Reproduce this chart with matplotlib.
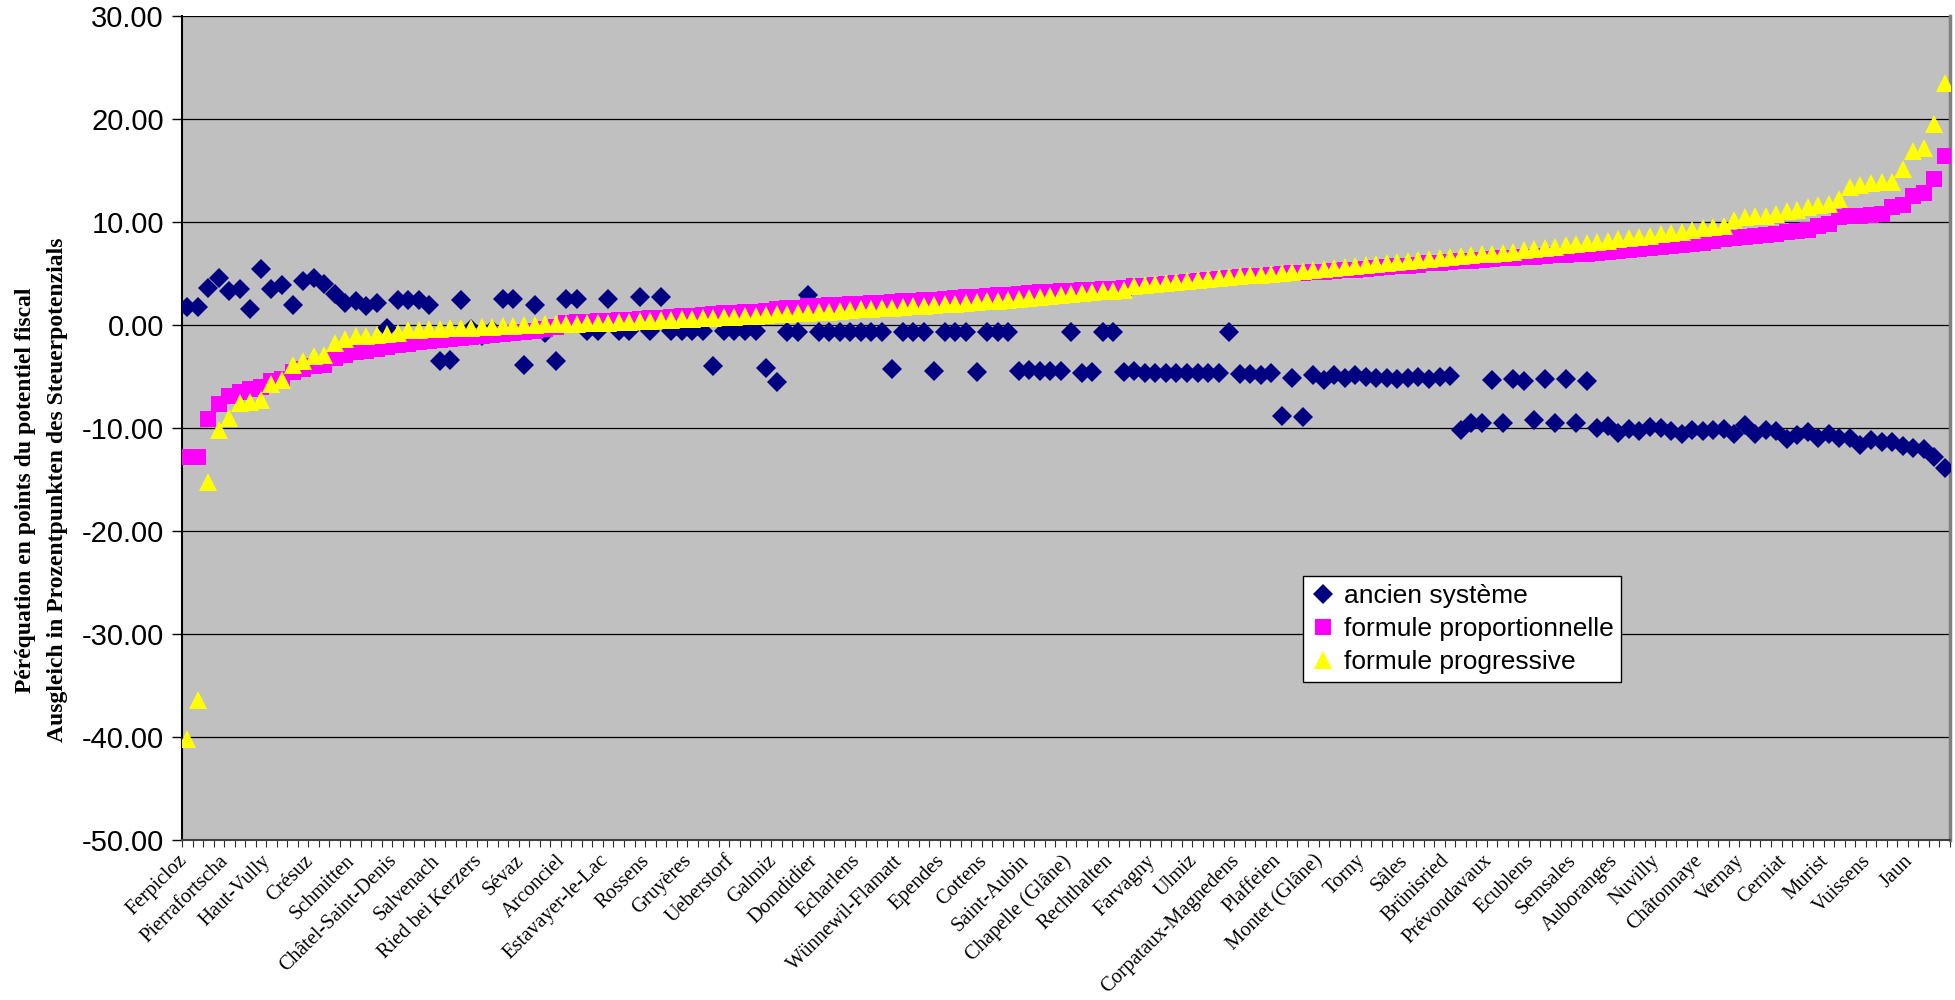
import matplotlib
matplotlib.use("Agg")
import matplotlib.pyplot as plt
from matplotlib.transforms import ScaledTranslation
import numpy as np

# Communes, sorted by the proportional formula (label shown on every 4th position)
tick_labels = [
    "Ferpicloz", "Pierrafortscha", "Haut-Vully", "Crésuz", "Schmitten",
    "Châtel-Saint-Denis", "Salvenach", "Ried bei Kerzers", "Sévaz", "Arconciel",
    "Estavayer-le-Lac", "Rossens", "Gruyères", "Ueberstorf", "Galmiz",
    "Domdidier", "Echarlens", "Wünnewil-Flamatt", "Ependes", "Cottens",
    "Saint-Aubin", "Chapelle (Glâne)", "Rechthalten", "Farvagny", "Ulmiz",
    "Corpataux-Magnedens", "Plaffeien", "Montet (Glâne)", "Torny", "Sâles",
    "Brünisried", "Prévondavaux", "Ecublens", "Semsales", "Auboranges",
    "Nuvilly", "Châtonnaye", "Vernay", "Cerniat", "Murist", "Vuissens", "Jaun",
]
n_communes = 168
label_step = 4

ancien = [
    1.75, 1.75, 3.6, 4.56, 3.33, 3.5, 1.55, 5.47, 3.5, 3.9,
    1.94, 4.3, 4.56, 4.0, 3.0, 2.2, 2.4, 1.9, 2.2, -0.3,
    2.45, 2.5, 2.45, 2.0, -3.5, -3.4, 2.45, -0.4, -1.0, -0.5,
    2.55, 2.55, -3.85, 1.94, -0.7, -3.5, 2.6, 2.6, -0.6, -0.6,
    2.6, -0.6, -0.6, 2.7, -0.6, 2.7, -0.6, -0.6, -0.6, -0.6,
    -3.95, -0.6, -0.6, -0.6, -0.6, -4.1, -5.5, -0.65, -0.65, 2.9,
    -0.65, -0.65, -0.65, -0.68, -0.68, -0.68, -0.68, -4.27, -0.68, -0.68,
    -0.68, -4.43, -0.68, -0.68, -0.68, -4.56, -0.68, -0.68, -0.68, -4.43,
    -4.34, -4.43, -4.43, -4.43, -0.68, -4.6, -4.5, -0.68, -0.68, -4.5,
    -4.43, -4.66, -4.66, -4.66, -4.6, -4.66, -4.66, -4.66, -4.66, -0.68,
    -4.75, -4.75, -4.82, -4.66, -8.8, -5.1, -8.93, -4.8, -5.3, -4.8,
    -5.15, -4.8, -5.0, -5.15, -5.1, -5.2, -5.15, -5.05, -5.2, -5.05,
    -4.9, -10.2, -9.5, -9.45, -5.3, -9.5, -5.24, -5.4, -9.2, -5.24,
    -9.5, -5.18, -9.5, -5.4, -10.0, -9.8, -10.5, -10.1, -10.3, -9.9,
    -10.0, -10.3, -10.6, -10.2, -10.3, -10.2, -10.1, -10.55, -9.7, -10.55,
    -10.2, -10.3, -11.0, -10.65, -10.4, -10.97, -10.55, -10.97, -10.97, -11.6,
    -11.1, -11.3, -11.3, -11.7, -11.9, -12.0, -12.75, -13.9,
]

proportionnelle = [
    -12.8, -12.8, -9.1, -7.6, -6.9, -6.5, -6.2, -6.0, -5.4, -5.2,
    -4.5, -4.2, -4.0, -3.9, -3.2, -2.9, -2.6, -2.5, -2.3, -2.1,
    -1.9, -1.8, -1.65, -1.55, -1.45, -1.35, -1.25, -1.15, -1.05, -0.95,
    -0.85, -0.75, -0.65, -0.55, -0.4, -0.2, 0.2, 0.3, 0.35, 0.4,
    0.45, 0.5, 0.55, 0.6, 0.7, 0.75, 0.85, 0.9, 0.95, 1.0,
    1.1, 1.15, 1.2, 1.25, 1.3, 1.4, 1.55, 1.65, 1.7, 1.85,
    1.9, 1.95, 2.0, 2.05, 2.1, 2.15, 2.2, 2.3, 2.35, 2.4,
    2.45, 2.5, 2.6, 2.65, 2.7, 2.75, 2.8, 2.9, 2.95, 3.0,
    3.1, 3.2, 3.25, 3.3, 3.35, 3.4, 3.45, 3.5, 3.55, 3.6,
    3.8, 3.85, 3.9, 4.0, 4.1, 4.2, 4.3, 4.4, 4.5, 4.6,
    4.65, 4.75, 4.8, 4.9, 5.0, 5.05, 5.1, 5.15, 5.2, 5.3,
    5.35, 5.4, 5.5, 5.6, 5.7, 5.75, 5.8, 5.9, 6.0, 6.05,
    6.1, 6.2, 6.25, 6.3, 6.4, 6.5, 6.55, 6.6, 6.65, 6.7,
    6.8, 6.85, 6.9, 6.95, 7.0, 7.1, 7.2, 7.3, 7.4, 7.5,
    7.6, 7.7, 7.8, 7.9, 8.0, 8.15, 8.35, 8.5, 8.6, 8.7,
    8.8, 8.9, 9.1, 9.2, 9.3, 9.6, 9.8, 10.5, 10.6, 10.65,
    10.7, 10.8, 11.5, 11.7, 12.6, 12.8, 14.2, 16.4,
]

progressive = [
    -40.2, -36.4, -15.2, -10.2, -9.0, -7.5, -7.4, -7.25, -5.7, -5.3,
    -3.85, -3.5, -3.0, -2.9, -1.75, -1.3, -1.05, -1.0, -0.95, -0.8,
    -0.7, -0.45, -0.42, -0.38, -0.35, -0.3, -0.28, -0.25, -0.2, -0.15,
    -0.1, -0.05, 0.0, 0.05, 0.08, 0.1, 0.12, 0.15, 0.2, 0.22,
    0.25, 0.3, 0.35, 0.4, 0.45, 0.5, 0.55, 0.6, 0.65, 0.7,
    0.75, 0.8, 0.85, 0.9, 0.95, 1.0, 1.05, 1.1, 1.15, 1.2,
    1.25, 1.3, 1.4, 1.5, 1.55, 1.6, 1.65, 1.7, 1.75, 1.85,
    1.9, 2.0, 2.05, 2.1, 2.2, 2.25, 2.35, 2.4, 2.5, 2.55,
    2.65, 2.75, 2.85, 2.95, 3.05, 3.1, 3.2, 3.3, 3.35, 3.45,
    3.8, 3.9, 4.0, 4.1, 4.2, 4.3, 4.4, 4.5, 4.6, 4.65,
    4.75, 4.85, 4.9, 4.95, 5.05, 5.15, 5.25, 5.35, 5.45, 5.55,
    5.65, 5.75, 5.85, 5.95, 6.05, 6.15, 6.25, 6.35, 6.45, 6.55,
    6.65, 6.75, 6.8, 6.9, 6.95, 7.05, 7.15, 7.3, 7.4, 7.5,
    7.6, 7.75, 7.85, 7.95, 8.1, 8.2, 8.35, 8.45, 8.6, 8.7,
    8.85, 9.0, 9.1, 9.25, 9.4, 9.55, 9.67, 10.25, 10.5, 10.6,
    10.64, 10.8, 11.07, 11.2, 11.45, 11.7, 11.8, 12.25, 13.4, 13.65,
    13.8, 13.9, 13.9, 15.2, 16.9, 17.2, 19.5, 23.5,
]

series_names = ["ancien système", "formule proportionnelle", "formule progressive"]
y_ticks = [30, 20, 10, 0, -10, -20, -30, -40, -50]
y_title = ("Péréquation en points du potentiel fiscal\n"
           "Ausgleich in Prozentpunkten des Steuerpotenzials")

x = np.arange(n_communes)

fig = plt.figure(figsize=(19.55, 10), dpi=100)
ax = fig.add_axes([0.0931, 0.1597, 0.9043, 0.824])
ax.set_facecolor("#C0C0C0")

ax.plot(x, ancien, linestyle="none", marker="D", markersize=10.3,
        color="#000080", markeredgewidth=0, label=series_names[0], zorder=3)
ax.plot(x, proportionnelle, linestyle="none", marker="s", markersize=11.8,
        color="#FF00FF", markeredgewidth=0, label=series_names[1], zorder=4)
ax.plot(x, progressive, linestyle="none", marker="^", markersize=12.8,
        color="#FFFF00", markeredgewidth=0, label=series_names[2], zorder=5)

ax.set_xlim(-0.5, n_communes - 0.5)
ax.set_ylim(-50, 30)
ax.set_yticks(y_ticks)
ax.set_yticklabels([f"{v:.2f}" for v in y_ticks],
                   fontfamily="Liberation Sans", fontsize=21)
ax.yaxis.grid(True, color="black", linewidth=0.9)
ax.set_axisbelow(True)

label_pos = np.arange(0, n_communes, label_step)
ax.set_xticks(label_pos)
ax.set_xticklabels(tick_labels, rotation=45, ha="right", va="top",
                   rotation_mode="anchor", fontfamily="Liberation Serif",
                   fontsize=14.8)
ax.set_xticks(np.arange(-0.5, n_communes, 1), minor=True)
ax.tick_params(axis="x", which="major", length=0, pad=8)
ax.tick_params(axis="x", which="minor", length=5, width=0.8, color="#303030")
ax.tick_params(axis="y", which="major", length=7, width=1.0, pad=6)

# nudge the slanted commune names a little to the left of their positions
shift = ScaledTranslation(-0.1, 0.0, fig.dpi_scale_trans)
for lbl in ax.get_xticklabels():
    lbl.set_transform(lbl.get_transform() + shift)

for side in ("left", "bottom"):
    ax.spines[side].set_linewidth(1.5)
ax.spines["left"].set_color("black")
ax.spines["bottom"].set_color("#404040")
ax.spines["right"].set_color("#808080")
ax.spines["right"].set_linewidth(2.5)
ax.spines["top"].set_visible(False)

fig.text(0.0212, 0.51, y_title, rotation=90, ha="center", va="center",
         multialignment="center", fontfamily="Liberation Serif",
         fontweight="bold", fontsize=17, linespacing=1.65)

leg = ax.legend(loc="upper left", bbox_to_anchor=(0.634, 0.3208),
                frameon=True, fancybox=False, framealpha=1,
                edgecolor="black", facecolor="white",
                prop={"family": "Liberation Sans", "size": 19},
                handlelength=0.9, handletextpad=0.35, labelspacing=0.35,
                borderpad=0.3, borderaxespad=0)
leg.get_frame().set_linewidth(1.0)

fig.savefig("out.png", dpi=100)
